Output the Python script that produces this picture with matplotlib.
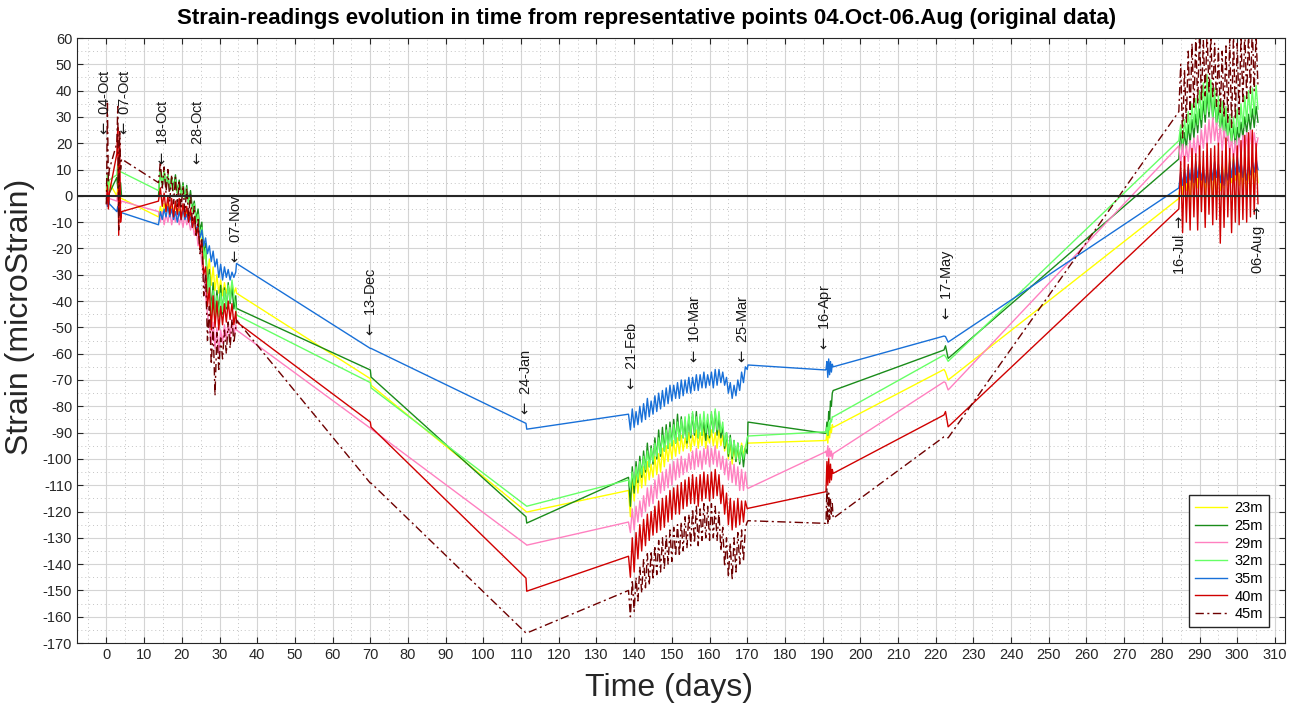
import numpy as np
import matplotlib
matplotlib.use("Agg")
import matplotlib.pyplot as plt
from matplotlib.ticker import MultipleLocator

plt.rcParams['font.family'] = ['Liberation Sans', 'DejaVu Sans']
plt.rcParams['axes.unicode_minus'] = False

# ---------------------- DATA ------------------------
names = ["23m", "25m", "29m", "32m", "35m", "40m", "45m"]
colors = ["#ffff00", "#1a8c1a", "#ff80c0", "#66ff66", "#1870d8", "#d00000", "#6e0000"]

# sample times (days since 04-Oct)
t_early = [0, 0.25, 0.5, 0.75, 2.75, 3.0, 3.25, 3.5, 3.75, 4.0]
t_link1 = [34.5, 70.0, 70.2, 111.3, 111.5]
t_link2 = [170.2, 190.8]
t_may = [222.2, 222.6, 223.3]
oct_span = (13.8, 34.3)
feb_span = (138.5, 170.0)
apr_span = (190.9, 192.8)
jul_span = (284.5, 305.5)

# 23m
early_23 = [2, 6, 3, 5, 0, 3, -2, 2, -1, -1]
oct_23 = [-8, -4, -7, -3, -6, -2, -7, -4, -8, -3, -7, -5, -9, -4, -8, -6, -10, -7, -12, -9,
          -15, -12, -18, -16, -24, -21, -30, -24, -34, -27, -36, -30, -37, -32, -38, -33, -37,
          -34, -38, -33, -37, -35]
link1_23 = [-37, -69.5, -72, -120, -120.2]
feb_23 = [-112, -122, -107, -116, -106, -113, -104, -111, -103, -110, -101, -108, -102, -107,
          -99, -106, -98, -105, -96, -103, -95, -101, -94, -100, -93, -99, -92, -98, -91, -97,
          -92, -96, -90, -97, -91, -95, -89, -96, -90, -95, -88, -96, -91, -94, -89, -95, -90,
          -96, -89, -95, -91, -97, -93, -100, -94, -102, -95, -101, -96, -100, -94, -99, -95, -94]
link2_23 = [-94, -93]
apr_23 = [-93, -90, -94, -89, -92, -88, -90, -87, -88]
may_23 = [-66, -67, -70]
jul_23 = [-1, 8, 0, 10, 2, 9, -2, 11, 1, 12, 3, 13, 2, 11, 0, 12, 1, 10, -1, 9, 0, 11, 2, 12,
          3, 13, 4, 14, 5, 15, 6, 14, 4, 12, 3, 11, 2, 10, 1, 12, 3, 13, 5]

# 25m
early_25 = [-3, 2, -4, 1, 7, 3, 10, 0, 5, 0]
oct_25 = [0, 10, 4, 9, 3, 8, 2, 7, 3, 8, 1, 6, 0, 5, -1, 4, -3, 2, -5, -2, -9, -5, -13, -10,
          -22, -18, -35, -28, -44, -33, -46, -36, -44, -34, -45, -35, -43, -33, -41, -34, -43, -38]
link1_25 = [-42.8, -66.2, -68.9, -122, -124.4]
feb_25 = [-107, -118, -103, -113, -101, -109, -99, -107, -97, -105, -94, -103, -95, -102, -92,
          -100, -89, -99, -88, -97, -87, -96, -86, -95, -85, -94, -83, -93, -84, -92, -86, -94,
          -84, -92, -83, -91, -82, -92, -84, -91, -86, -93, -85, -92, -83, -90, -82, -91, -84,
          -92, -88, -96, -90, -99, -91, -100, -93, -101, -94, -102, -95, -103, -96, -98]
link2_25 = [-86, -90.3]
apr_25 = [-90, -86, -91, -82, -85, -78, -80, -75, -74]
may_25 = [-58.6, -57, -61.8]
jul_25 = [14, 25, 17, 24, 18, 27, 20, 29, 22, 31, 24, 33, 26, 36, 28, 39, 30, 40, 29, 37, 27,
          34, 25, 31, 22, 30, 21, 28, 20, 27, 19, 26, 21, 28, 22, 30, 24, 31, 25, 33, 26, 34, 28]

# 29m
early_29 = [1, -4, 2, -1, -2, 1, -4, 0, -3, -2]
oct_29 = [-6, -10, -6, -11, -7, -10, -6, -11, -7, -10, -6, -11, -8, -12, -7, -11, -9, -13, -10,
          -15, -12, -19, -17, -26, -30, -38, -45, -50, -56, -48, -58, -50, -60, -51, -56, -49,
          -55, -48, -54, -47, -53, -49]
link1_29 = [-51, -88.3, -88.6, -132.5, -132.8]
feb_29 = [-124, -128, -119, -127, -118, -124, -116, -122, -114, -120, -111, -118, -110, -117,
          -108, -115, -106, -113, -105, -112, -104, -111, -102, -110, -101, -108, -100, -107,
          -99, -106, -100, -105, -98, -104, -97, -104, -96, -103, -97, -104, -96, -102, -95,
          -103, -96, -102, -95, -103, -97, -104, -99, -106, -100, -108, -101, -109, -102, -110,
          -103, -112, -104, -112, -105, -111]
link2_29 = [-111.2, -97.3]
apr_29 = [-97, -99, -95, -100, -96, -99, -97, -100, -98]
may_29 = [-70.7, -71, -73.8]
jul_29 = [19, 12, 20, 11, 19, 13, 21, 14, 22, 15, 23, 16, 25, 18, 27, 19, 29, 20, 30, 21, 28,
          19, 27, 17, 26, 18, 25, 16, 22, 14, 21, 13, 22, 15, 23, 16, 24, 16, 25, 17, 24, 18, 22]

# 32m
early_32 = [3, 8, 2, 6, 8, 12, 6, 11, 9, 9]
oct_32 = [2, 9, 5, 10, 4, 8, 3, 7, 2, 6, 1, 5, 0, 4, -1, 3, -3, 0, -6, -3, -10, -7, -15, -12,
          -24, -20, -37, -30, -47, -36, -48, -38, -46, -37, -44, -36, -42, -34, -40, -32, -38, -42]
link1_32 = [-45.3, -71, -73, -117.8, -118]
feb_32 = [-108, -111, -105, -110, -103, -108, -101, -106, -99, -104, -97, -103, -96, -101, -94,
          -99, -92, -98, -91, -97, -89, -96, -88, -95, -87, -94, -86, -93, -85, -92, -84, -93,
          -83, -91, -82, -90, -84, -92, -83, -91, -82, -90, -83, -91, -82, -90, -81, -89, -82,
          -90, -86, -95, -90, -98, -92, -99, -93, -100, -94, -101, -95, -100, -96, -92]
link2_32 = [-91.3, -89.7]
apr_32 = [-90, -88, -91, -86, -89, -85, -86, -84, -84]
may_32 = [-60.5, -61, -62.9]
jul_32 = [21, 27, 20, 29, 22, 32, 24, 35, 26, 37, 27, 40, 29, 43, 31, 46, 32, 44, 30, 41, 28,
          38, 26, 36, 25, 34, 23, 31, 21, 30, 22, 33, 24, 35, 26, 38, 28, 40, 30, 41, 31, 42, 33]

# 35m
early_35 = [-1, -4, 0, -3, -6, -4, -7, -5, -6, -6.4]
oct_35 = [-11, -6, -9, -5, -8, -4, -8, -5, -9, -6, -10, -6, -9, -5, -9, -7, -10, -8, -12, -9,
          -13, -11, -16, -13, -19, -16, -22, -19, -25, -21, -27, -24, -31, -26, -32, -27, -31,
          -28, -32, -29, -31, -29]
link1_35 = [-25.7, -58, -58, -86.5, -88.7]
feb_35 = [-83, -89, -81, -88, -82, -87, -80, -86, -79, -85, -77, -84, -78, -83, -76, -82, -75,
          -81, -74, -80, -73, -79, -72, -78, -72, -77, -71, -77, -70, -76, -70, -75, -69, -75,
          -69, -74, -68, -74, -68, -73, -67, -73, -68, -72, -67, -73, -66, -72, -66, -71, -67,
          -72, -69, -75, -71, -77, -72, -76, -70, -74, -67, -71, -65, -66]
link2_35 = [-64.3, -66.2]
apr_35 = [-66, -63, -69, -62, -68, -63, -67, -64, -65]
may_35 = [-53.3, -53.5, -55.6]
jul_35 = [3, 9, 4, 10, 5, 11, 6, 12, 5, 13, 7, 12, 6, 11, 5, 10, 4, 12, 6, 13, 7, 12, 5, 11, 4,
          10, 6, 13, 7, 14, 8, 15, 9, 13, 7, 12, 6, 11, 8, 13, 9, 14, 10]

# 40m
early_40 = [-3, 4, -5, 1, 16, 26, -15, 20, -10, -6]
oct_40 = [-2, 3, -4, 1, -6, 0, -7, -1, -8, -2, -7, -1, -9, -3, -8, -4, -10, -5, -12, -8, -15,
          -12, -20, -18, -30, -27, -42, -35, -51, -38, -50, -40, -51, -42, -49, -41, -48, -40,
          -47, -41, -49, -44]
link1_40 = [-47.9, -86, -87.9, -145.3, -150.3]
feb_40 = [-137, -145, -130, -143, -128, -138, -125, -135, -123, -133, -121, -131, -120, -129,
          -118, -128, -116, -127, -115, -126, -114, -124, -112, -123, -111, -121, -110, -121,
          -109, -119, -108, -118, -107, -117, -106, -117, -107, -118, -106, -116, -105, -115,
          -106, -116, -105, -115, -104, -114, -106, -117, -110, -121, -113, -125, -115, -127,
          -116, -126, -115, -125, -116, -124, -116, -119]
link2_40 = [-118.8, -112.5]
apr_40 = [-112, -101, -110, -100, -109, -102, -108, -104, -105.5]
may_40 = [-83.3, -82, -87.8]
jul_40 = [-5, 13, -14, 15, -10, 12, -13, 18, -8, 16, -13, 19, -6, 17, -12, 20, -7, 18, -11, 19,
          -9, 20, -18, 17, -12, 22, -8, 18, -14, 16, -10, 19, -11, 21, -9, 23, -10, 24, -8, 25,
          -7, 20, -3]

# 45m
early_45 = [-3, 36, 5, 10, 20, 34, -13, 25, 10, 14]
oct_45 = [5, 13, 3, 11, 1, 10, -2, 8, -3, 7, -4, 6, -5, 4, -6, 3, -8, 1, -10, -4, -15, -9, -22,
          -16, -38, -30, -55, -42, -64, -50, -76, -52, -66, -54, -62, -51, -60, -48, -58, -47,
          -56, -50]
link1_45 = [-47.2, -109.2, -109.2, -166.2, -166.2]
feb_45 = [-150, -160, -146, -158, -145, -154, -141, -151, -138, -149, -136, -148, -135, -146,
          -133, -144, -131, -143, -130, -142, -129, -140, -127, -139, -126, -137, -125, -137,
          -124, -135, -122, -134, -121, -133, -119, -132, -118, -133, -119, -131, -117, -130,
          -118, -131, -117, -130, -118, -131, -120, -135, -126, -141, -130, -145, -132, -146,
          -130, -143, -128, -140, -127, -139, -126, -124]
link2_45 = [-123.5, -124.5]
apr_45 = [-124, -111, -125, -113, -123, -115, -121, -117, -122.6]
may_45 = [-91.6, -91.6, -92]
jul_45 = [32, 50, 22, 48, 28, 55, 31, 58, 33, 60, 35, 62, 36, 59, 38, 63, 39, 61, 37, 58, 34,
          56, 31, 55, 30, 57, 28, 60, 26, 62, 29, 58, 31, 61, 35, 63, 37, 62, 39, 64, 40, 61, 42]

events = ["04-Oct", "07-Oct", "18-Oct", "28-Oct", "07-Nov", "13-Dec", "24-Jan", "21-Feb",
          "10-Mar", "25-Mar", "16-Apr", "17-May", "16-Jul", "06-Aug"]
event_day = [-0.4, 4.9, 15.0, 24.4, 34.4, 70.2, 111.2, 139.3, 156.2, 168.9, 190.8, 223.1,
             284.8, 305.7]

series = {
    "23m": (early_23, oct_23, link1_23, feb_23, link2_23, apr_23, may_23, jul_23),
    "25m": (early_25, oct_25, link1_25, feb_25, link2_25, apr_25, may_25, jul_25),
    "29m": (early_29, oct_29, link1_29, feb_29, link2_29, apr_29, may_29, jul_29),
    "32m": (early_32, oct_32, link1_32, feb_32, link2_32, apr_32, may_32, jul_32),
    "35m": (early_35, oct_35, link1_35, feb_35, link2_35, apr_35, may_35, jul_35),
    "40m": (early_40, oct_40, link1_40, feb_40, link2_40, apr_40, may_40, jul_40),
    "45m": (early_45, oct_45, link1_45, feb_45, link2_45, apr_45, may_45, jul_45),
}


def build(parts):
    early, oc, l1, fe, l2, ap, ma, ju = parts
    t = np.concatenate([t_early, np.linspace(*oct_span, len(oc)), t_link1,
                        np.linspace(*feb_span, len(fe)), t_link2,
                        np.linspace(*apr_span, len(ap)), t_may,
                        np.linspace(*jul_span, len(ju))])
    v = np.concatenate([early, oc, l1, fe, l2, ap, ma, ju])
    return t, v


# ---------------------- PLOT ------------------------
fig = plt.figure(figsize=(12.93, 7.04), dpi=100)
ax = fig.add_axes([0.0596, 0.0866, 0.9343, 0.8594])

for name, col in zip(names, colors):
    t, v = build(series[name])
    if name == "45m":
        ax.plot(t, v, color=col, lw=1.0, ls=(0, (6, 2.5, 1.5, 2.5)), label=name)
    else:
        ax.plot(t, v, color=col, lw=1.0, label=name)

ax.axhline(0, color="#262626", lw=1.5, zorder=5)

# event markers
tk = dict(rotation=90, ha="center", fontsize=10.5, color="#1a1a1a")
below = {"16-Jul": -7.3, "06-Aug": -4.1}
above = [22.5, 22.5, 11, 11, -26.3, -54, -84, -74.5, -64.3, -64.3, -59.3, -48]
for i, (lab, d) in enumerate(zip(events, event_day)):
    if lab in below:
        ax.text(d, below[lab], lab + r" $\rightarrow$", va="top", **tk)
    else:
        ax.text(d, above[i], r"$\leftarrow$ " + lab, va="bottom", **tk)

ax.set_xlim(-7.8, 312.7)
ax.set_ylim(-170, 60)
ax.set_xticks(np.arange(0, 311, 10))
ax.set_yticks(np.arange(-170, 61, 10))
ax.xaxis.set_minor_locator(MultipleLocator(5))
ax.yaxis.set_minor_locator(MultipleLocator(5))
ax.grid(which="major", color="#d4d4d4", lw=0.8, ls="-")
ax.grid(which="minor", color="#c4c4c4", lw=0.7, ls=(0, (1, 3)))
ax.set_axisbelow(True)
ax.tick_params(which="major", direction="in", length=4, top=True, right=True,
               labelsize=10.5, colors="#262626", width=0.8)
ax.tick_params(which="minor", length=0)
for s in ax.spines.values():
    s.set_color("#262626")
    s.set_linewidth(0.8)

ax.set_xlabel("Time (days)", fontsize=23, color="#262626")
ax.set_ylabel("Strain (microStrain)", fontsize=23, color="#262626")
ax.xaxis.set_label_coords(0.49, -0.05)
ax.yaxis.set_label_coords(-0.035, 0.539)
fig.text(0.5, 0.974, "Strain-readings evolution in time from representative points "
         "04.Oct-06.Aug (original data)", ha="center", va="center",
         fontsize=16, fontweight="bold")

ax.legend(loc="lower right", fontsize=10.5, frameon=True, fancybox=False,
          edgecolor="#262626", framealpha=1, borderaxespad=1.1,
          handlelength=2.2, handletextpad=0.5, labelspacing=0.25, borderpad=0.4)

fig.savefig("out.png", dpi=100)
